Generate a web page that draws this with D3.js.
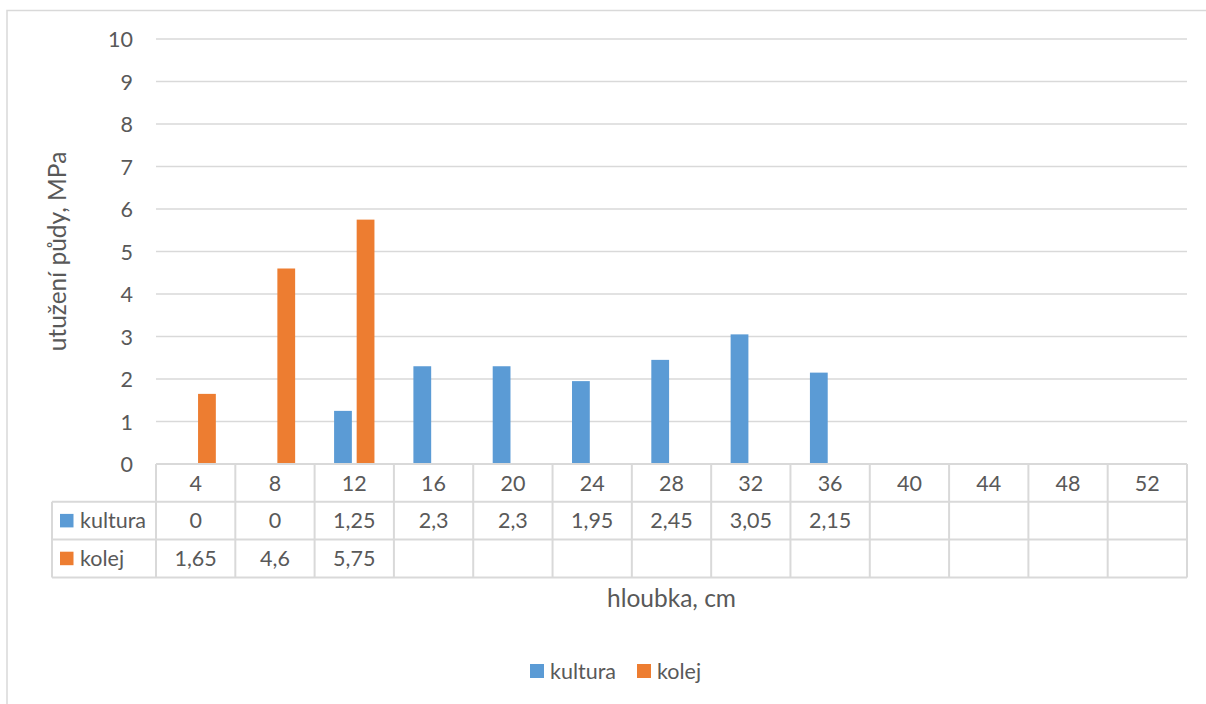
<!DOCTYPE html>
<html>
<head>
<meta charset="utf-8">
<script src="https://cdn.jsdelivr.net/npm/d3@7"></script>
<style>
  html, body { margin: 0; padding: 0; background: #fff; }
  svg { display: block; }
  text { font-family: Lato, "Open Sans", sans-serif; fill: #595959; }
</style>
</head>
<body>
<svg id="chart" width="1206" height="704"></svg>
<script>
// Depth categories (cm) and soil compaction values (MPa)
const depths = ["4", "8", "12", "16", "20", "24", "28", "32", "36", "40", "44", "48", "52"];
const kultura = [0, 0, 1.25, 2.3, 2.3, 1.95, 2.45, 3.05, 2.15, null, null, null, null];
const kolej = [1.65, 4.6, 5.75, null, null, null, null, null, null, null, null, null, null];
const yTicks = [0, 1, 2, 3, 4, 5, 6, 7, 8, 9, 10];

const seriesNames = ["kultura", "kolej"];
const seriesValues = { kultura, kolej };
const colors = { kultura: "#5B9BD5", kolej: "#ED7D31" };
const gridColor = "#D9D9D9";

const svg = d3.select("#chart");

const plot = { left: 156, right: 1187, top: 39, bottom: 464 };
const tableLeft = 52;
const rowH = 37.8;
const tickFont = 21.5;
const titleFont = 24.5;

// Chart area border
svg.append("rect")
  .attr("x", 7).attr("y", 10.5)
  .attr("width", 1240).attr("height", 740)
  .attr("fill", "none").attr("stroke", gridColor).attr("stroke-width", 1.5);

const x = d3.scaleBand().domain(depths).range([plot.left, plot.right]).padding(0);
const y = d3.scaleLinear().domain([0, 10]).range([plot.bottom, plot.top]);

// Bar geometry: gap width 219 %, overlap -27 %
const barW = x.bandwidth() / 4.46;
const groupW = 2.27 * barW;
const x1 = d3.scaleBand().domain(seriesNames)
  .range([0, groupW]).paddingInner(1 - 1 / 1.27).paddingOuter(0);

// Horizontal gridlines
svg.append("g")
  .selectAll("line")
  .data(yTicks.filter(t => t > 0))
  .join("line")
  .attr("x1", plot.left).attr("x2", plot.right)
  .attr("y1", d => y(d)).attr("y2", d => y(d))
  .attr("stroke", gridColor).attr("stroke-width", 1.5);

// Y axis labels
const yAxis = d3.axisLeft(y).tickValues(yTicks).tickSize(0).tickPadding(0)
  .tickFormat(d => String(d));
const yg = svg.append("g").attr("transform", `translate(${133},0)`).call(yAxis);
yg.select(".domain").remove();
yg.selectAll("text")
  .style("font-family", "Lato, 'Open Sans', sans-serif")
  .attr("font-size", tickFont).attr("fill", "#595959").attr("dy", "0.36em");

// Bars
seriesNames.forEach(name => {
  const vals = seriesValues[name];
  svg.append("g")
    .selectAll("rect")
    .data(depths.map((d, i) => ({ d, v: vals[i] })).filter(o => o.v !== null && o.v > 0))
    .join("rect")
    .attr("x", o => x(o.d) + (x.bandwidth() - groupW) / 2 + x1(name))
    .attr("width", x1.bandwidth())
    .attr("y", o => y(o.v))
    .attr("height", o => y(0) - y(o.v))
    .attr("fill", colors[name]);
});

// Data table
const table = svg.append("g");
const rowTops = [plot.bottom, plot.bottom + rowH, plot.bottom + 2 * rowH, plot.bottom + 3 * rowH];
const lineAttrs = sel => sel.attr("stroke", gridColor).attr("stroke-width", 2);

// horizontal rules
table.append("line").attr("x1", plot.left).attr("x2", plot.right)
  .attr("y1", rowTops[0]).attr("y2", rowTops[0]).call(lineAttrs);
[1, 2, 3].forEach(r => {
  table.append("line").attr("x1", tableLeft).attr("x2", plot.right)
    .attr("y1", rowTops[r]).attr("y2", rowTops[r]).call(lineAttrs);
});
// vertical rules
const bounds = depths.map(d => x(d)).concat([plot.right]);
table.selectAll("line.v").data(bounds).join("line").attr("class", "v")
  .attr("x1", d => d).attr("x2", d => d)
  .attr("y1", rowTops[0]).attr("y2", rowTops[3]).call(lineAttrs);
table.append("line").attr("x1", tableLeft).attr("x2", tableLeft)
  .attr("y1", rowTops[1]).attr("y2", rowTops[3]).call(lineAttrs);

// header row (depth categories)
table.selectAll("text.h").data(depths).join("text").attr("class", "h")
  .attr("x", d => x(d) + x.bandwidth() / 2)
  .attr("y", (rowTops[0] + rowTops[1]) / 2)
  .attr("dy", "0.36em")
  .attr("text-anchor", "middle").attr("font-size", tickFont)
  .text(d => d);

const fmt = v => String(v).replace(".", ",");
seriesNames.forEach((name, si) => {
  const cy = (rowTops[si + 1] + rowTops[si + 2]) / 2;
  table.append("rect").attr("x", 60).attr("y", cy - 6.8)
    .attr("width", 13.5).attr("height", 13.5).attr("fill", colors[name]);
  table.append("text").attr("x", 80).attr("y", cy).attr("dy", "0.36em")
    .attr("font-size", tickFont).text(name);
  table.selectAll(`text.v${si}`)
    .data(depths.map((d, i) => ({ d, v: seriesValues[name][i] })).filter(o => o.v !== null))
    .join("text").attr("class", `v${si}`)
    .attr("x", o => x(o.d) + x.bandwidth() / 2)
    .attr("y", cy).attr("dy", "0.36em")
    .attr("text-anchor", "middle").attr("font-size", tickFont)
    .text(o => fmt(o.v));
});

// Axis titles
svg.append("text")
  .attr("x", (plot.left + plot.right) / 2).attr("y", 607)
  .attr("text-anchor", "middle").attr("font-size", titleFont)
  .text("hloubka, cm");

svg.append("text")
  .attr("transform", `translate(66,${(plot.top + plot.bottom) / 2}) rotate(-90)`)
  .attr("text-anchor", "middle").attr("font-size", titleFont)
  .text("utužení půdy, MPa");

// Legend
const legend = svg.append("g");
const legendItems = [{ name: "kultura", x: 530 }, { name: "kolej", x: 637 }];
legendItems.forEach(it => {
  legend.append("rect").attr("x", it.x).attr("y", 664)
    .attr("width", 14).attr("height", 14).attr("fill", colors[it.name]);
  legend.append("text").attr("x", it.x + 20).attr("y", 671).attr("dy", "0.36em")
    .attr("font-size", tickFont).text(it.name);
});
</script>
</body>
</html>
